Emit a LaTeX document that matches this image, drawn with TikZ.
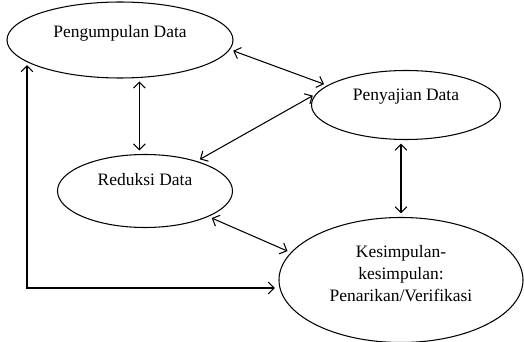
\documentclass[tikz,border=0pt]{standalone}
\usepackage{fontspec}
\setmainfont{Liberation Serif}
\usetikzlibrary{shapes, arrows.meta}

\begin{document}
\begin{tikzpicture}[x=0.03cm, y=-0.03cm, line width=0.9pt, font=\fontsize{14.9}{18.8}\selectfont,
  tahap/.style={ellipse, draw, inner sep=0pt},
  panah/.style={<->, >={Straight Barb[length=5pt,width=10pt]}, shorten <=3pt, shorten >=3pt}]
\useasboundingbox (0,0) rectangle (524,342);

\node[tahap, minimum width=6.78cm, minimum height=2.28cm, label={[yshift=0.21cm]center:Pengumpulan Data}] (kumpul) at (120,40) {};
\node[tahap, minimum width=5.67cm, minimum height=2.07cm, label={[yshift=0.24cm]center:Penyajian Data}] (saji) at (406,105) {};
\node[tahap, minimum width=5.25cm, minimum height=2.19cm, label={[yshift=0.33cm]center:Reduksi Data}] (reduksi) at (145,191) {};
\node[tahap, minimum width=7.32cm, minimum height=3.75cm, label={[align=center, yshift=0.18cm]center:{Kesimpulan-\\kesimpulan:\\Penarikan/Verifikasi}}] (simpul) at (401,280) {};

\coordinate (sudut) at (27,288);

\draw[panah] (kumpul.-5) -- (saji.166);
\draw[panah] (kumpul.-63) -- (reduksi.north -| kumpul.-63);
\draw[panah] (saji.173) -- (reduksi.30);
\draw[panah] (saji.south -| simpul.north) -- (simpul.north);
\draw[panah] (reduksi.-22) -- (simpul.166);
\draw[panah] (sudut -| simpul.west) -- (sudut) -- (kumpul.-167 -| sudut);
\end{tikzpicture}
\end{document}
